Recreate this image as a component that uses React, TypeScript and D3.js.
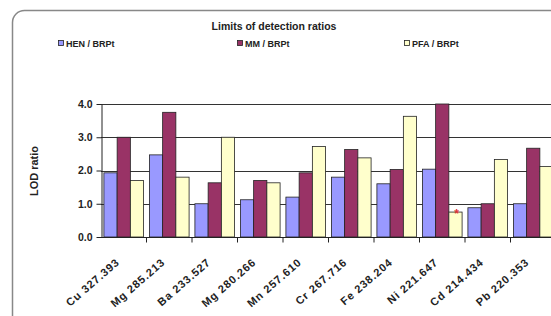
import React, { useRef, useEffect } from 'react';
import * as d3 from 'd3';

const categories = [
  'Cu 327.393', 'Mg 285.213', 'Ba 233.527', 'Mg 280.266', 'Mn 257.610',
  'Cr 267.716', 'Fe 238.204', 'Ni 221.647', 'Cd 214.434', 'Pb 220.353'
];
const seriesNames = ['HEN / BRPt', 'MM / BRPt', 'PFA / BRPt'];
const henValues = [1.93, 2.47, 1.0, 1.12, 1.2, 1.8, 1.6, 2.04, 0.88, 1.0];
const mmValues = [3.0, 3.75, 1.63, 1.7, 1.93, 2.63, 2.03, 4.0, 1.0, 2.67];
const pfaValues = [1.7, 1.8, 3.0, 1.63, 2.72, 2.38, 3.63, 0.75, 2.33, 2.12];
const yTicks = [0, 1, 2, 3, 4];
const colors = ['#9999ff', '#993366', '#ffffcc'];

const App = () => {
  const ref = useRef<SVGSVGElement>(null);

  useEffect(() => {
    const svg = d3.select(ref.current);
    svg.selectAll('*').remove();
    const W = 551, H = 316;
    const left = 101, right = 556, top = 104, bottom = 237;
    const font = 'Arial, "Liberation Sans", sans-serif';

    // frame
    svg.append('rect')
      .attr('x', 12.5).attr('y', 10.5)
      .attr('width', 560).attr('height', 330)
      .attr('rx', 12).attr('ry', 12)
      .attr('fill', 'white').attr('stroke', '#888').attr('stroke-width', 1.5);

    svg.append('text')
      .attr('x', 274).attr('y', 30)
      .attr('text-anchor', 'middle')
      .attr('font-family', font).attr('font-size', 10.5).attr('font-weight', 'bold')
      .attr('fill', '#222')
      .text('Limits of detection ratios');

    const legendX = [58, 237, 404];
    seriesNames.forEach((name, i) => {
      svg.append('rect')
        .attr('x', legendX[i] + 0.5).attr('y', 40.5)
        .attr('width', 5).attr('height', 5)
        .attr('fill', colors[i]).attr('stroke', '#222').attr('stroke-width', 0.8);
      svg.append('text')
        .attr('x', legendX[i] + 8).attr('y', 46.5)
        .attr('font-family', font).attr('font-size', 9).attr('font-weight', 'bold')
        .attr('fill', '#222')
        .text(name);
    });

    const x0 = d3.scaleBand<string>().domain(categories).range([left, right]).paddingInner(0).paddingOuter(0);
    const x1 = d3.scaleBand<number>().domain([0, 1, 2]).range([0, x0.bandwidth()]).paddingOuter(0.22).paddingInner(0);
    const y = d3.scaleLinear().domain([0, 4]).range([bottom, top]);

    const g = svg.append('g');

    // gridlines
    g.selectAll('line.grid')
      .data(yTicks.filter(t => t > 0))
      .enter().append('line')
      .attr('x1', left).attr('x2', W)
      .attr('y1', d => Math.round(y(d)) + 0.5).attr('y2', d => Math.round(y(d)) + 0.5)
      .attr('stroke', '#333').attr('stroke-width', 1);

    const series = [henValues, mmValues, pfaValues];
    const data = categories.flatMap((c, ci) => series.map((s, si) => ({ c, si, v: s[ci] })));
    g.selectAll('rect.bar')
      .data(data)
      .enter().append('rect')
      .attr('x', d => (x0(d.c) as number) + (x1(d.si) as number))
      .attr('y', d => y(d.v))
      .attr('width', x1.bandwidth())
      .attr('height', d => y(0) - y(d.v))
      .attr('fill', d => colors[d.si])
      .attr('stroke', '#222').attr('stroke-width', 0.8);

    // red star on Ni PFA
    const niX = (x0('Ni 221.647') as number) + (x1(2) as number) + x1.bandwidth() / 2;
    svg.append('text')
      .attr('x', niX + 1).attr('y', y(pfaValues[7]) + 6)
      .attr('text-anchor', 'middle')
      .attr('font-family', font).attr('font-size', 12).attr('font-weight', 'bold')
      .attr('fill', '#dd3333')
      .text('*');

    // y axis
    const yAxis = svg.append('g')
      .attr('transform', `translate(${left + 0.5},0)`)
      .call(d3.axisLeft(y).tickValues(yTicks).tickFormat(d3.format('.1f')).tickSize(5).tickSizeOuter(0));
    yAxis.select('.domain').attr('stroke', '#222');
    yAxis.selectAll('line').attr('stroke', '#222');
    yAxis.selectAll('text')
      .attr('font-family', font).attr('font-size', 10.5).attr('font-weight', 'bold')
      .attr('fill', '#222').attr('dx', '-1');

    // x axis
    const xAxis = svg.append('g')
      .attr('transform', `translate(0,${bottom + 0.5})`);
    xAxis.append('line')
      .attr('x1', left).attr('x2', W)
      .attr('stroke', '#222').attr('stroke-width', 1.2);
    xAxis.selectAll('line.tick')
      .data(categories)
      .enter().append('line')
      .attr('x1', d => (x0(d) as number) + x0.bandwidth())
      .attr('x2', d => (x0(d) as number) + x0.bandwidth())
      .attr('y1', 0).attr('y2', 5)
      .attr('stroke', '#222');
    xAxis.selectAll('text')
      .data(categories)
      .enter().append('text')
      .attr('transform', d => `translate(${(x0(d) as number) + x0.bandwidth() / 2 - 6},${23}) rotate(-41)`)
      .attr('text-anchor', 'end')
      .attr('dy', '0.35em')
      .attr('font-family', font).attr('font-size', 11).attr('font-weight', 'bold')
      .attr('letter-spacing', 0.9)
      .attr('fill', '#222')
      .text(d => d);

    svg.append('text')
      .attr('transform', `translate(38,171) rotate(-90)`)
      .attr('text-anchor', 'middle')
      .attr('font-family', font).attr('font-size', 11).attr('font-weight', 'bold')
      .attr('fill', '#222')
      .text('LOD ratio');

    svg.attr('width', W).attr('height', H);
  }, []);

  return (
    <svg ref={ref} width={551} height={316}
      style={{ position: 'absolute', left: 0, top: 0, background: 'white', display: 'block' }} />
  );
};

export default App;
